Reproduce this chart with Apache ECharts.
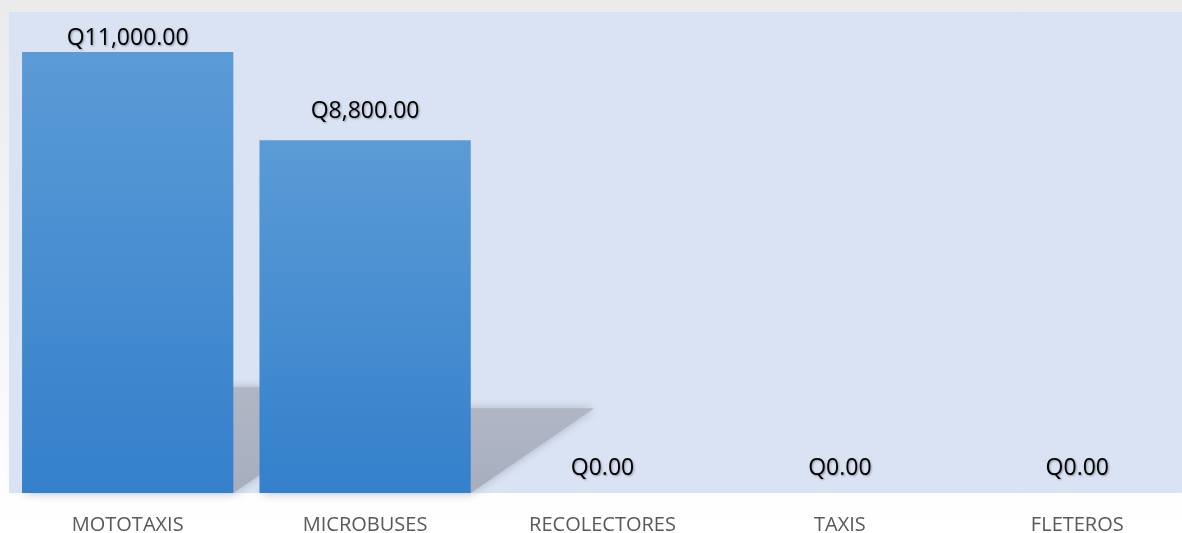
<!DOCTYPE html>
<html><head><meta charset="utf-8">
<script src="https://cdn.jsdelivr.net/npm/echarts@6/dist/echarts.min.js"></script>
<style>
html,body{margin:0;padding:0;}
body{background:linear-gradient(to bottom,#ebebeb 0%,#f6f6f6 60%,#ffffff 100%);}
#c{width:1182px;height:533px;}
</style></head><body>
<div id="c"></div>
<script>
const categories = ['MOTOTAXIS','MICROBUSES','RECOLECTORES','TAXIS','FLETEROS'];
const values = [11000, 8800, 0, 0, 0];
const yMin = 0, yMax = 12000;

const plotH = 481;
function fmt(v){
  return 'Q' + v.toLocaleString('en-US',{minimumFractionDigits:2,maximumFractionDigits:2});
}
const barData = values.map(v => {
  const avail = (yMax - v) / (yMax - yMin) * plotH;
  const d = v === 0 ? 13 : Math.max(2, Math.min(17, avail - 38));
  return { value: v, label: { distance: d } };
});
const shadowData = values.map((v,i) => [i, v]);

const chart = echarts.init(document.getElementById('c'), null, {renderer:'canvas'});
chart.setOption({
  animation:false,
  grid:{left:9, top:12, width:1187, height:plotH, backgroundColor:'#dae3f3', show:true, borderWidth:0,
    outerBoundsMode:'none', containLabel:false},
  xAxis:{type:'category', data:categories,
    axisLine:{show:false}, axisTick:{show:false},
    axisLabel:{color:'#595959', fontSize:20, fontFamily:'Open Sans, Liberation Sans, sans-serif', margin:22}},
  yAxis:{type:'value', min:yMin, max:yMax, show:false, splitLine:{show:false}},
  series:[
    {type:'custom', data:shadowData, z:1, silent:true,
      renderItem:function(params, api){
        const idx = api.value(0), v = api.value(1);
        if(!v) return null;
        const base = api.coord([idx, 0]);
        const top = api.coord([idx, v]);
        const bw = api.size([1,0])[0]*0.89;
        const h = base[1]-top[1];
        const l = base[0]-bw/2, r = base[0]+bw/2;
        const dx = 0.35*h, dy = 0.24*h;
        return {type:'polygon', shape:{points:[[l,base[1]],[r,base[1]],[r+dx,base[1]-dy],[l+dx,base[1]-dy]]},
          style:{fill:new echarts.graphic.LinearGradient(0,0,0,1,[{offset:0,color:'#b0b6c4'},{offset:1,color:'#a7aebe'}]),
            shadowBlur:10, shadowColor:'rgba(160,166,182,0.8)'}};
      }},
    {type:'bar', data:barData, barWidth:'89%', z:3,
      itemStyle:{color:new echarts.graphic.LinearGradient(0,0,0,1,[{offset:0,color:'#5b9bd6'},{offset:1,color:'#3480cb'}])},
      label:{show:true, position:'top', formatter:p=>fmt(p.value), color:'#000', fontSize:23,
        fontFamily:'Open Sans, Liberation Sans, sans-serif',
        textShadowColor:'rgba(0,0,0,0.35)', textShadowBlur:2, textShadowOffsetX:1, textShadowOffsetY:1}}
  ]
});
</script></body></html>
